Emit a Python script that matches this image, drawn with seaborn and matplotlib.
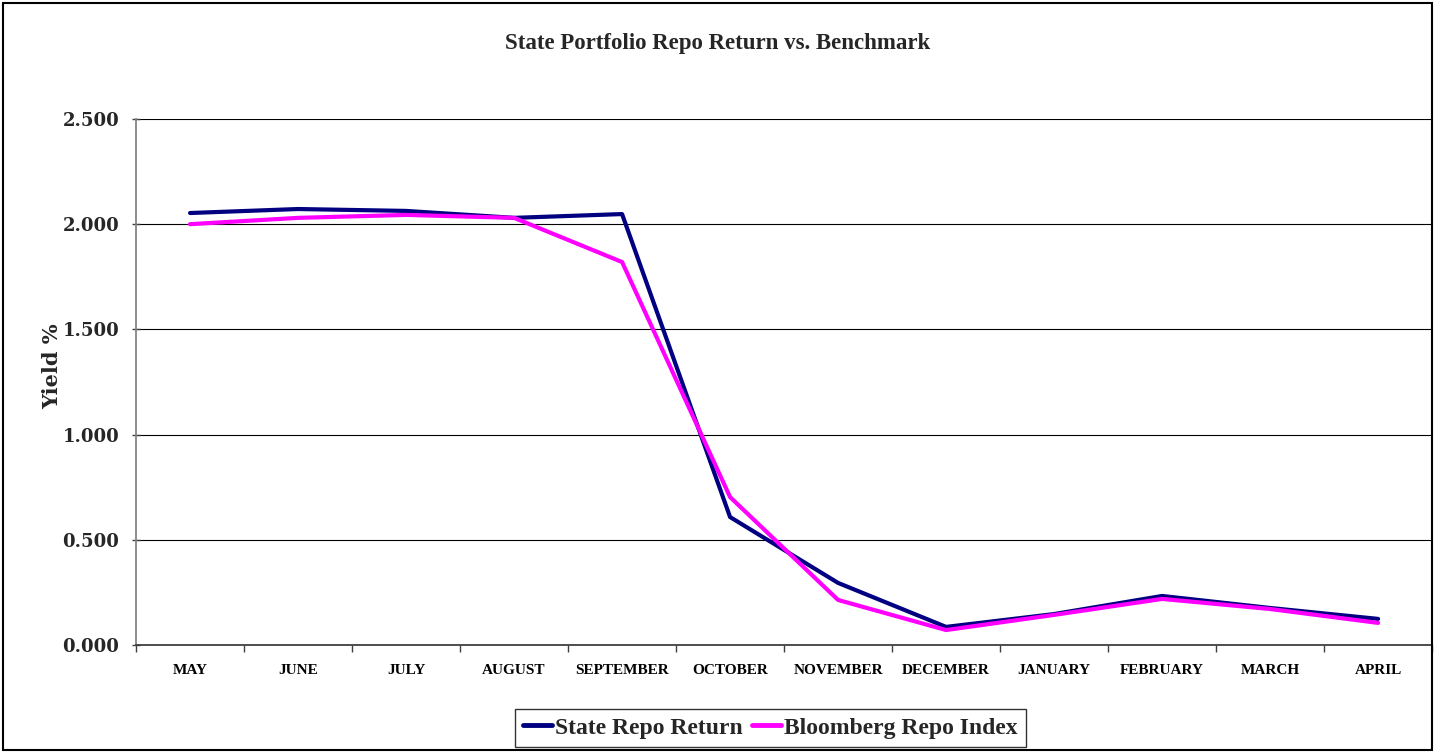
"""State portfolio repo return vs. Bloomberg benchmark."""

import matplotlib
matplotlib.use("Agg")
import matplotlib.pyplot as plt
from matplotlib.ticker import FixedLocator
import pandas as pd
import seaborn as sns

months = ["MAY", "JUNE", "JULY", "AUGUST", "SEPTEMBER", "OCTOBER",
          "NOVEMBER", "DECEMBER", "JANUARY", "FEBRUARY", "MARCH", "APRIL"]
state_repo = [2.053, 2.072, 2.063, 2.030, 2.048, 0.608,
              0.295, 0.086, 0.147, 0.233, 0.176, 0.124]
bloomberg_repo = [2.000, 2.030, 2.044, 2.030, 1.820, 0.703,
                  0.214, 0.071, 0.143, 0.219, 0.171, 0.105]
y_ticks = [0.0, 0.5, 1.0, 1.5, 2.0, 2.5]

sns.set_theme(style="white")
plt.rcParams["font.family"] = ["Liberation Serif", "DejaVu Serif"]

df = pd.DataFrame({
    "month": months * 2,
    "x": list(range(len(months))) * 2,
    "yield": state_repo + bloomberg_repo,
    "series": ["State Repo Return"] * len(months) + ["Bloomberg Repo Index"] * len(months),
})

fig = plt.figure(figsize=(14.35, 7.52), dpi=100)
ax = fig.add_axes([0.0948, 0.1423, 0.9032, 0.6995])

sns.lineplot(data=df, x="x", y="yield", hue="series",
             palette={"State Repo Return": "#000080", "Bloomberg Repo Index": "#FF00FF"},
             linewidth=3, ax=ax, legend=False)

ax.set_xlim(-0.5, len(months) - 0.5)
ax.set_ylim(0, 2.5)
ax.set_yticks(y_ticks)
ax.set_yticklabels([f"{v:.3f}" for v in y_ticks], family="DejaVu Serif",
                   fontweight="bold", fontsize=13)
ax.set_xticks(range(len(months)))
ax.set_xticklabels(months, fontweight="bold", fontsize=11)
ax.xaxis.set_minor_locator(FixedLocator([i - 0.5 for i in range(len(months) + 1)]))
ax.tick_params(axis="x", which="major", length=0, pad=14, colors="black")
ax.tick_params(axis="x", which="minor", length=5, width=1, color="#404040", direction="out", bottom=True)
ax.tick_params(axis="y", length=6, width=1, color="#404040", direction="inout", left=True, pad=9)

ax.grid(axis="y", color="black", linewidth=0.8)
ax.set_axisbelow(True)
for side in ["top", "right"]:
    ax.spines[side].set_visible(False)
ax.spines["left"].set_color("#808080")
ax.spines["bottom"].set_color("#404040")
ax.spines["bottom"].set_linewidth(1.3)

ax.set_xlabel("")
ax.set_ylabel("Yield %", family="DejaVu Serif", fontweight="bold", fontsize=15)
ax.yaxis.set_label_coords(-0.057, 0.53)

fig.text(0.5, 0.942, "State Portfolio Repo Return vs. Benchmark",
         ha="center", va="center", fontsize=16.5, fontweight="bold")

handles = [plt.Line2D([], [], color="#000080", lw=3.5),
           plt.Line2D([], [], color="#FF00FF", lw=3.5)]
leg = fig.legend(handles, ["State Repo Return", "Bloomberg Repo Index"],
                 loc="center", bbox_to_anchor=(0.537, 0.032), ncol=2,
                 frameon=True, fancybox=False, handlelength=1.2, handletextpad=0.15,
                 columnspacing=0.4, borderpad=0.35, borderaxespad=0,
                 prop={"family": "Liberation Serif", "weight": "bold", "size": 17})
leg.get_frame().set_edgecolor("black")
leg.get_frame().set_linewidth(1)

# outer frame around the whole chart
fig.patches.append(plt.Rectangle((0.002, 0.003), 0.996, 0.993, transform=fig.transFigure,
                                 fill=False, edgecolor="black", linewidth=1.5))

fig.savefig("out.png", dpi=100)
